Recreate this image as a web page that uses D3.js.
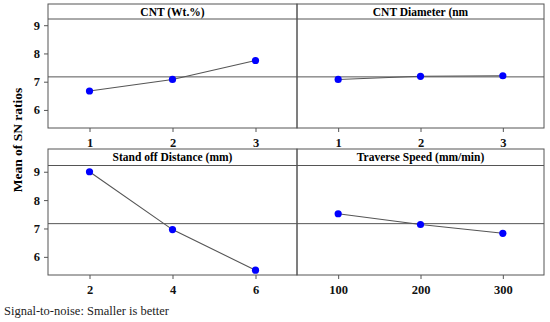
<!DOCTYPE html>
<html>
<head>
<meta charset="utf-8">
<script src="https://cdn.jsdelivr.net/npm/d3@7"></script>
<style>
  body { margin: 0; background: #fff; }
  svg, svg text { font-family: "Liberation Serif", "Times New Roman", serif; }
</style>
</head>
<body>
<div class="graph"></div>
<script>
// Data
let titles = ["CNT (Wt.%)", "CNT Diameter (nm", "Stand off Distance (mm)", "Traverse Speed (mm/min)"];
let levels = [["1", "2", "3"], ["1", "2", "3"], ["2", "4", "6"], ["100", "200", "300"]];
let means = [
  [6.67, 7.08, 7.75],
  [7.08, 7.19, 7.21],
  [9.0, 6.96, 5.53],
  [7.52, 7.14, 6.83]
];
let overallMean = 7.17;
let yTicks = [6, 7, 8, 9];

let width = 550;
let height = 322;
let colX = [48, 297, 544];
let rows = [
  { top: 4, head: 19, bottom: 128 },
  { top: 149, head: 165.5, bottom: 275 }
];
let serif = "'Liberation Serif', 'Times New Roman', serif";

let svg = d3
  .select(".graph")
  .append("svg")
  .attr("width", width)
  .attr("height", height);

titles.forEach(function (title, i) {
  let r = rows[Math.floor(i / 2)];
  let c = i % 2;
  let x = d3.scalePoint().domain(levels[i]).range([colX[c], colX[c + 1]]).padding(0.5);
  let y = d3.scaleLinear().domain([5.36, 9.22]).range([r.bottom, r.head]);
  let g = svg.append("g");

  // reference line (overall mean)
  g.append("line")
    .attr("x1", colX[c]).attr("x2", colX[c + 1])
    .attr("y1", y(overallMean)).attr("y2", y(overallMean))
    .attr("stroke", "#555").attr("stroke-width", 1);

  // panel border + header strip
  g.append("rect")
    .attr("x", colX[c]).attr("y", r.top)
    .attr("width", colX[c + 1] - colX[c]).attr("height", r.bottom - r.top)
    .attr("fill", "none").attr("stroke", "#555").attr("stroke-width", 1);
  g.append("line")
    .attr("x1", colX[c]).attr("x2", colX[c + 1])
    .attr("y1", r.head).attr("y2", r.head)
    .attr("stroke", "#555").attr("stroke-width", 1);
  g.append("text")
    .attr("x", (colX[c] + colX[c + 1]) / 2)
    .attr("y", (r.top + r.head) / 2 + 4)
    .attr("text-anchor", "middle")
    .attr("font-family", serif)
    .attr("font-size", 11.5).attr("font-weight", "bold")
    .text(title);

  // x axis
  let xAxis = g.append("g")
    .attr("transform", "translate(0," + r.bottom + ")")
    .call(d3.axisBottom(x).tickSize(4).tickPadding(6));
  xAxis.attr("font-family", serif);
  xAxis.select(".domain").remove();
  xAxis.selectAll("line").attr("stroke", "#555");
  xAxis.selectAll("text")
    .attr("font-size", 12.5).attr("font-weight", "bold").attr("fill", "#111");

  // y axis on left column
  if (c === 0) {
    let yAxis = g.append("g")
      .attr("transform", "translate(" + colX[0] + ",0)")
      .call(d3.axisLeft(y).tickValues(yTicks).tickFormat(d3.format("d")).tickSize(4).tickPadding(4));
    yAxis.attr("font-family", serif);
    yAxis.select(".domain").remove();
    yAxis.selectAll("line").attr("stroke", "#555");
    yAxis.selectAll("text")
      .attr("font-size", 12.5).attr("font-weight", "bold").attr("fill", "#111");
  }

  // mean line
  let line = d3.line()
    .x(function (d, j) { return x(levels[i][j]); })
    .y(function (d) { return y(d); });
  g.append("path")
    .datum(means[i])
    .attr("d", line)
    .attr("fill", "none")
    .attr("stroke", "#555").attr("stroke-width", 1.1);

  g.selectAll("circle")
    .data(means[i])
    .enter()
    .append("circle")
    .attr("cx", function (d, j) { return x(levels[i][j]); })
    .attr("cy", function (d) { return y(d); })
    .attr("r", 3.6)
    .attr("fill", "#0000ff");
});

// y label
svg.append("text")
  .attr("transform", "translate(22,140) rotate(-90)")
  .attr("text-anchor", "middle")
  .attr("font-family", serif)
  .attr("font-size", 13.5).attr("font-weight", "bold")
  .text("Mean of SN ratios");

// footer
svg.append("text")
  .attr("x", 4).attr("y", 315)
  .attr("font-family", serif)
  .attr("font-size", 12.5)
  .attr("fill", "#222")
  .text("Signal-to-noise: Smaller is better");
</script>
</body>
</html>
